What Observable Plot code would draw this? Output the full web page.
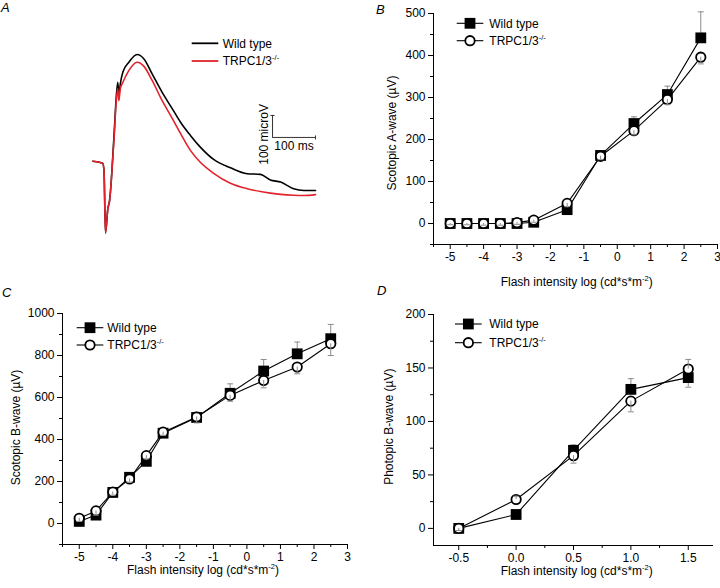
<!DOCTYPE html>
<html>
<head>
<meta charset="utf-8">
<script src="https://cdn.jsdelivr.net/npm/d3@7"></script>
<script src="https://cdn.jsdelivr.net/npm/@observablehq/plot@0.6"></script>
<style>
  html, body { margin: 0; padding: 0; background: #fff; }
  #root { position: relative; width: 720px; height: 588px; background: #fff; overflow: hidden; }
  #root > svg { position: absolute; }
</style>
</head>
<body>
<div id="root"></div>
<script>
// ---------- Panel A: ERG traces (time in ms, amplitude in microV) ----------
const traceT  = [0, 23, 26, 29.5, 35, 39, 43, 45, 50, 53, 58, 60.5, 64, 70, 84, 103, 119, 138, 161, 185, 204, 227, 250, 281, 320, 359, 390, 413, 437, 467, 491, 518];
const traceWT = [0, -9, -42, -327, -215, -179, -88, -27, 140, 245, 359, 299, 352, 405, 450, 485, 465, 397, 314, 238, 177, 117, 64, 8, -30, -57, -60, -85, -95, -125, -133, -133];
const traceKO = [0, -9, -42, -327, -215, -179, -88, -27, 120, 230, 330, 275, 330, 359, 413, 450, 431, 367, 276, 194, 126, 49, -5, -55, -100, -125, -138, -145, -151, -155, -156, -152];
const scaleBar = [{t: 418, v: 108, dt: 100, dv: 100}];

// ---------- Panel B: scotopic A-wave ----------
const bX     = [-5, -4.5, -4, -3.5, -3, -2.5, -1.5, -0.5, 0.5, 1.5, 2.5];
const bWT    = [0, 0, 0, 0, 0, 3, 33, 162, 238, 307, 442];
const bWTerr = [3, 3, 3, 3, 3, 4, 6, 8, 16, 20, 62];
const bKO    = [0, 0, 0, 0, 2, 8, 48, 160, 221, 295, 396];
const bKOerr = [-3, -3, -4, -4, -4, -5, -8, -8, -10, -12, -16];

// ---------- Panel C: scotopic B-wave ----------
const cX     = [-5, -4.5, -4, -3.5, -3, -2.5, -1.5, -0.5, 0.5, 1.5, 2.5];
const cWT    = [10, 40, 148, 220, 296, 430, 505, 620, 726, 808, 880];
const cWTerr = [15, 15, 15, 15, 15, 15, 25, 45, 55, 56, 68];
const cKO    = [25, 60, 150, 212, 323, 435, 507, 610, 681, 745, 856];
const cKOerr = [-15, -20, -15, -15, -15, -15, -28, -28, -35, -32, -56];

// ---------- Panel D: photopic B-wave ----------
const dX     = [-0.5, 0, 0.5, 1, 1.5];
const dWT    = [0, 13, 73, 130, 141];
const dWTerr = [2, -4, 5, 10, -9];
const dKO    = [0, 27, 68, 119, 149];
const dKOerr = [-2, 3, -7, -10, 9];

// ---------- ticks ----------
const xTicksBC  = [-5, -4, -3, -2, -1, 0, 1, 2, 3];
const xMinorBC  = [-5.5, -4.5, -3.5, -2.5, -1.5, -0.5, 0.5, 1.5, 2.5];
const yTicksB   = [0, 100, 200, 300, 400, 500];
const yMinorB   = [-50, 50, 150, 250, 350, 450];
const yTicksC   = [0, 200, 400, 600, 800, 1000];
const yMinorC   = [-100, 100, 300, 500, 700, 900];
const xTicksD   = [-0.5, 0, 0.5, 1, 1.5];
const xMinorD   = [-0.25, 0.25, 0.75, 1.25];
const yTicksD   = [0, 50, 100, 150, 200];
const yMinorD   = [25, 75, 125, 175];

const FONT = "'Liberation Sans', Arial, Helvetica, sans-serif";
const ERR = "#8c8c8c";
const RED = "#e3232b";
const root = document.getElementById("root");

const hline = {draw(ctx, size) { const r = Math.sqrt(size / Math.PI); ctx.moveTo(-r, 0); ctx.lineTo(r, 0); }};
const vline = {draw(ctx, size) { const r = Math.sqrt(size / Math.PI); ctx.moveTo(0, -r); ctx.lineTo(0, r); }};

function place(svg, left, top) {
  svg.style.position = "absolute";
  svg.style.left = left + "px";
  svg.style.top = top + "px";
  root.appendChild(svg);
}

// Panel A
{
  const rows = traceT.map((t, i) => ({t, wt: traceWT[i], ko: traceKO[i]}));
  const svg = Plot.plot({
    width: 360, height: 280,
    marginLeft: 0, marginRight: 0, marginTop: 0, marginBottom: 0,
    x: {domain: [-214.7, 622.6], axis: null},
    y: {domain: [-542.3, 730.5], axis: null},
    style: {background: "transparent", fontFamily: FONT, fontSize: "12px", overflow: "visible"},
    marks: [
      Plot.line(rows, {x: "t", y: "wt", stroke: "black", strokeWidth: 1.6, curve: "monotone-x"}),
      Plot.line(rows, {x: "t", y: "ko", stroke: RED, strokeWidth: 1.6, curve: "monotone-x"}),
      Plot.ruleY(scaleBar, {y: "v", x1: "t", x2: d => d.t + d.dt, stroke: "#333", strokeWidth: 1}),
      Plot.ruleX(scaleBar, {x: "t", y1: "v", y2: d => d.v + d.dv, stroke: "#333", strokeWidth: 1}),
      Plot.dot(scaleBar, {x: "t", y: d => d.v + d.dv, symbol: hline, r: 2, fill: "none", stroke: "#333", strokeWidth: 1}),
      Plot.dot(scaleBar, {x: d => d.t + d.dt, y: "v", symbol: vline, r: 2, fill: "none", stroke: "#333", strokeWidth: 1}),
      Plot.text(scaleBar, {x: "t", y: d => d.v + d.dv / 2, text: d => d.dv + " microV", rotate: -90, dx: -8, dy: 8, fill: "black", fontSize: 12, textAnchor: "middle", lineAnchor: "middle"}),
      Plot.text(scaleBar, {x: d => d.t + d.dt / 2, y: "v", text: d => d.dt + " ms", dy: 9, fill: "black", fontSize: 12, textAnchor: "middle", lineAnchor: "middle"})
    ]
  });
  place(svg, 0, 0);
}

function xyPanel(o) {
  const rows = o.x.map((x, i) => ({x, wt: o.wt[i], wtE: o.wtErr[i], ko: o.ko[i], koE: o.koErr[i]}));
  return Plot.plot({
    width: o.width, height: o.height,
    marginLeft: o.m[0], marginRight: o.m[1], marginTop: o.m[2], marginBottom: o.m[3],
    x: {domain: o.xDomain},
    y: {domain: o.yDomain},
    style: {background: "transparent", fontFamily: FONT, fontSize: "12px", overflow: "visible", color: "black"},
    marks: [
      Plot.ruleX([o.xDomain[0]], {stroke: "black", strokeWidth: 1}),
      Plot.ruleY([o.yDomain[0]], {stroke: "black", strokeWidth: 1}),
      Plot.axisX({ticks: o.xMajor, tickSize: 5, tickPadding: 3, tickFormat: o.fmt, label: null, fill: "black"}),
      Plot.axisX({ticks: o.xMinor, tickSize: 3, tickFormat: () => "", label: null}),
      Plot.axisY({ticks: o.yMajor, tickSize: 5, tickPadding: 3, tickFormat: d => String(d), label: null, fill: "black"}),
      Plot.axisY({ticks: o.yMinor, tickSize: 3, tickFormat: () => "", label: null}),
      Plot.line(rows, {x: "x", y: "wt", stroke: "black", strokeWidth: 1.1}),
      Plot.line(rows, {x: "x", y: "ko", stroke: "black", strokeWidth: 1.1}),
      Plot.ruleX(rows, {x: "x", y1: "wt", y2: d => d.wt + d.wtE, stroke: ERR, strokeWidth: 1}),
      Plot.dot(rows, {x: "x", y: d => d.wt + d.wtE, symbol: hline, r: 3, fill: "none", stroke: ERR, strokeWidth: 1}),
      Plot.dot(rows, {x: "x", y: "wt", symbol: "square", r: 6.1, fill: "black", stroke: "none"}),
      Plot.dot(rows, {x: "x", y: "ko", symbol: "circle", r: 4.7, fill: "white", stroke: "black", strokeWidth: 1.8}),
      Plot.ruleX(rows, {x: "x", y1: "ko", y2: d => d.ko + d.koE, stroke: ERR, strokeWidth: 1}),
      Plot.dot(rows, {x: "x", y: d => d.ko + d.koE, symbol: hline, r: 3, fill: "none", stroke: ERR, strokeWidth: 1})
    ]
  });
}

const fmtInt = d => String(d);
const fmtD = d => d.toFixed(1);

place(xyPanel({x: bX, wt: bWT, wtErr: bWTerr, ko: bKO, koErr: bKOerr, width: 360, height: 290, m: [73, 3, 13, 46],
  xDomain: [-5.5, 3], yDomain: [-50, 500], xMajor: xTicksBC, xMinor: xMinorBC, yMajor: yTicksB, yMinor: yMinorB, fmt: fmtInt}), 360, 0);
place(xyPanel({x: cX, wt: cWT, wtErr: cWTerr, ko: cKO, koErr: cKOerr, width: 360, height: 308, m: [62, 13, 33, 44],
  xDomain: [-5.5, 3], yDomain: [-100, 1000], xMajor: xTicksBC, xMinor: xMinorBC, yMajor: yTicksC, yMinor: yMinorC, fmt: fmtInt}), 0, 280);
place(xyPanel({x: dX, wt: dWT, wtErr: dWTerr, ko: dKO, koErr: dKOerr, width: 360, height: 308, m: [73, 7, 34, 43],
  xDomain: [-0.72, 1.72], yDomain: [-16, 200], xMajor: xTicksD, xMinor: xMinorD, yMajor: yTicksD, yMinor: yMinorD, fmt: fmtD}), 360, 280);

// ---------- annotation overlay: panel letters, legends, axis titles ----------
const ov = d3.create("svg").attr("width", 720).attr("height", 588)
  .style("left", "0px").style("top", "0px").style("font-family", FONT).style("font-size", "12px");

const letters = [["A", 1, 12], ["B", 376, 13.5], ["C", 2, 297], ["D", 377, 295]];
for (const [t, x, y] of letters) {
  ov.append("text").attr("x", x).attr("y", y).attr("font-size", 13).attr("font-style", "italic").text(t);
}

function koLabel(g, x, y) {
  const t = g.append("text").attr("x", x).attr("y", y).attr("dy", "0.35em");
  t.append("tspan").text("TRPC1/3");
  t.append("tspan").attr("font-size", 7.5).attr("dy", -5).text("-/-");
}

// Legend A
{
  const g = ov.append("g");
  g.append("line").attr("x1", 191.7).attr("x2", 218.3).attr("y1", 43.3).attr("y2", 43.3).attr("stroke", "black").attr("stroke-width", 1.8);
  g.append("text").attr("x", 222.7).attr("y", 43.3).attr("dy", "0.35em").text("Wild type");
  g.append("line").attr("x1", 191.7).attr("x2", 218.3).attr("y1", 61).attr("y2", 61).attr("stroke", RED).attr("stroke-width", 1.8);
  koLabel(g, 222.7, 61);
}

function markerLegend(x1, x2, y1, y2, tx) {
  const g = ov.append("g");
  const cx = (x1 + x2) / 2;
  g.append("line").attr("x1", x1).attr("x2", x2).attr("y1", y1).attr("y2", y1).attr("stroke", "black").attr("stroke-width", 1.1);
  g.append("rect").attr("x", cx - 5.4).attr("y", y1 - 5.4).attr("width", 10.8).attr("height", 10.8).attr("fill", "black");
  g.append("text").attr("x", tx).attr("y", y1).attr("dy", "0.35em").text("Wild type");
  g.append("line").attr("x1", x1).attr("x2", x2).attr("y1", y2).attr("y2", y2).attr("stroke", "black").attr("stroke-width", 1.1);
  g.append("circle").attr("cx", cx).attr("cy", y2).attr("r", 4.7).attr("fill", "white").attr("stroke", "black").attr("stroke-width", 1.8);
  koLabel(g, tx, y2);
}
markerLegend(456.7, 483.3, 23.3, 40.7, 489.3);
markerLegend(76.7, 103.3, 327.7, 345, 107.3);
markerLegend(455, 481.7, 324, 342.7, 489.3);

function xTitle(cx, cy) {
  const t = ov.append("text").attr("x", cx).attr("y", cy).attr("dy", "0.35em").attr("text-anchor", "middle");
  t.append("tspan").text("Flash intensity log (cd*s*m");
  t.append("tspan").attr("font-size", 7.5).attr("dy", -5).text("-2");
  t.append("tspan").attr("dy", 5).text(")");
}
xTitle(576.7, 282);
xTitle(203, 570);
xTitle(576.7, 571);

function yTitle(cx, cy, label) {
  ov.append("text").attr("transform", `translate(${cx},${cy}) rotate(-90)`).attr("dy", "0.35em")
    .attr("text-anchor", "middle").text(label);
}
yTitle(391.7, 133, "Scotopic A-wave (\u00b5V)");
yTitle(15.3, 427.5, "Scotopic B-wave (\u00b5V)");
yTitle(389, 426.7, "Photopic B-wave (\u00b5V)");

root.appendChild(ov.node());
</script>
</body>
</html>
